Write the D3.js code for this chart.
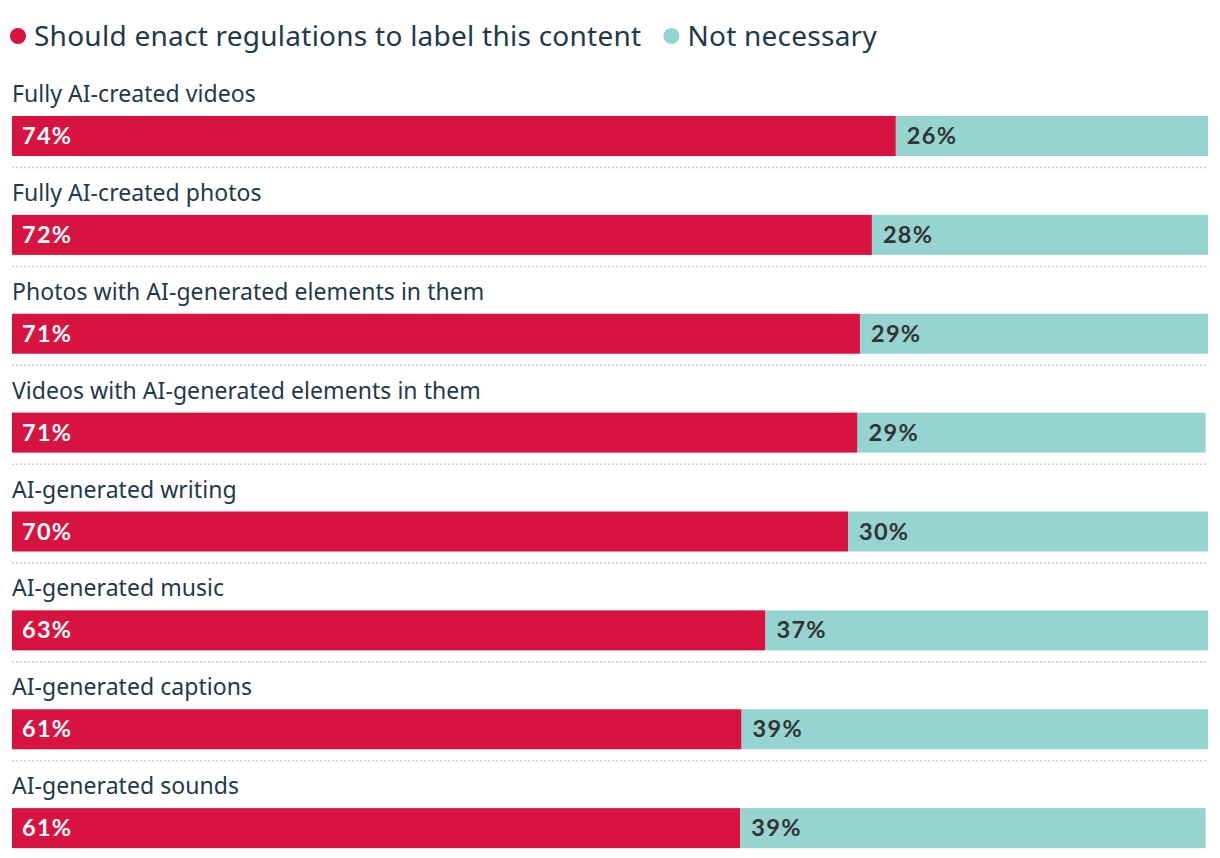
<!DOCTYPE html>
<html>
<head>
<meta charset="utf-8">
<script src="https://cdn.jsdelivr.net/npm/d3@7"></script>
<style>
  html, body { margin: 0; padding: 0; background: #fff; }
  svg { display: block; }
</style>
</head>
<body>
<svg id="chart" width="1220" height="858"></svg>
<script>
const categories = [
  "Fully AI-created videos",
  "Fully AI-created photos",
  "Photos with AI-generated elements in them",
  "Videos with AI-generated elements in them",
  "AI-generated writing",
  "AI-generated music",
  "AI-generated captions",
  "AI-generated sounds"
];
const shouldRegulate = [73.9, 71.9, 70.9, 70.7, 69.9, 63.0, 61.0, 60.9];
const notNecessary   = [26.1, 28.1, 29.1, 29.1, 30.1, 37.0, 39.0, 38.9];
const seriesNames = ["Should enact regulations to label this content", "Not necessary"];
const seriesColors = ["#d7143f", "#96d4d1"];

const svg = d3.select("#chart");
const textColor = "#22394a";
const labelFont = "'Noto Sans', 'Open Sans', sans-serif";
const valueFont = "Lato, 'Open Sans', sans-serif";

// Legend
const legend = svg.append("g");
let lx = 18;
seriesNames.forEach((name, i) => {
  legend.append("circle").attr("cx", lx).attr("cy", 36).attr("r", 8).attr("fill", seriesColors[i]);
  const t = legend.append("text")
    .attr("x", lx + 16).attr("y", 46)
    .attr("font-family", labelFont).attr("font-size", 28)
    .attr("letter-spacing", 0.25)
    .attr("fill", textColor).text(name);
  lx += 16 + t.node().getComputedTextLength() + 30;
});

const x = d3.scaleLinear().domain([0, 100]).range([12, 1208]);
const y = d3.scaleBand().domain(categories).range([116, 907]).paddingInner(0).paddingOuter(0);
const barH = 40;

const rows = svg.selectAll("g.row").data(categories).join("g").attr("class", "row");

rows.append("text")
  .attr("x", 12).attr("y", d => y(d) - 14)
  .attr("font-family", labelFont).attr("font-size", 23)
  .attr("letter-spacing", 0.05)
  .attr("fill", textColor).text(d => d);

rows.append("rect")
  .attr("x", x(0)).attr("y", d => y(d))
  .attr("width", (d, i) => x(shouldRegulate[i]) - x(0))
  .attr("height", barH).attr("fill", seriesColors[0]);

rows.append("rect")
  .attr("x", (d, i) => x(shouldRegulate[i])).attr("y", d => y(d))
  .attr("width", (d, i) => x(shouldRegulate[i] + notNecessary[i]) - x(shouldRegulate[i]))
  .attr("height", barH).attr("fill", seriesColors[1]);

rows.append("text")
  .attr("x", x(0) + 10).attr("y", d => y(d) + 28)
  .attr("font-family", valueFont).attr("font-weight", 700).attr("font-size", 23.5)
  .attr("letter-spacing", 1.3)
  .attr("fill", "#ffffff").text((d, i) => Math.round(shouldRegulate[i]) + "%");

rows.append("text")
  .attr("x", (d, i) => x(shouldRegulate[i]) + 11).attr("y", d => y(d) + 28)
  .attr("font-family", valueFont).attr("font-weight", 700).attr("font-size", 23.5)
  .attr("letter-spacing", 1.3)
  .attr("fill", "#333333").text((d, i) => Math.round(notNecessary[i]) + "%");

rows.filter((d, i) => i < categories.length - 1).append("line")
  .attr("x1", x(0)).attr("x2", x(100))
  .attr("y1", d => y(d) + barH + 11.5).attr("y2", d => y(d) + barH + 11.5)
  .attr("stroke", "#cccccc").attr("stroke-width", 1.5).attr("stroke-dasharray", "2,2");
</script>
</body>
</html>
